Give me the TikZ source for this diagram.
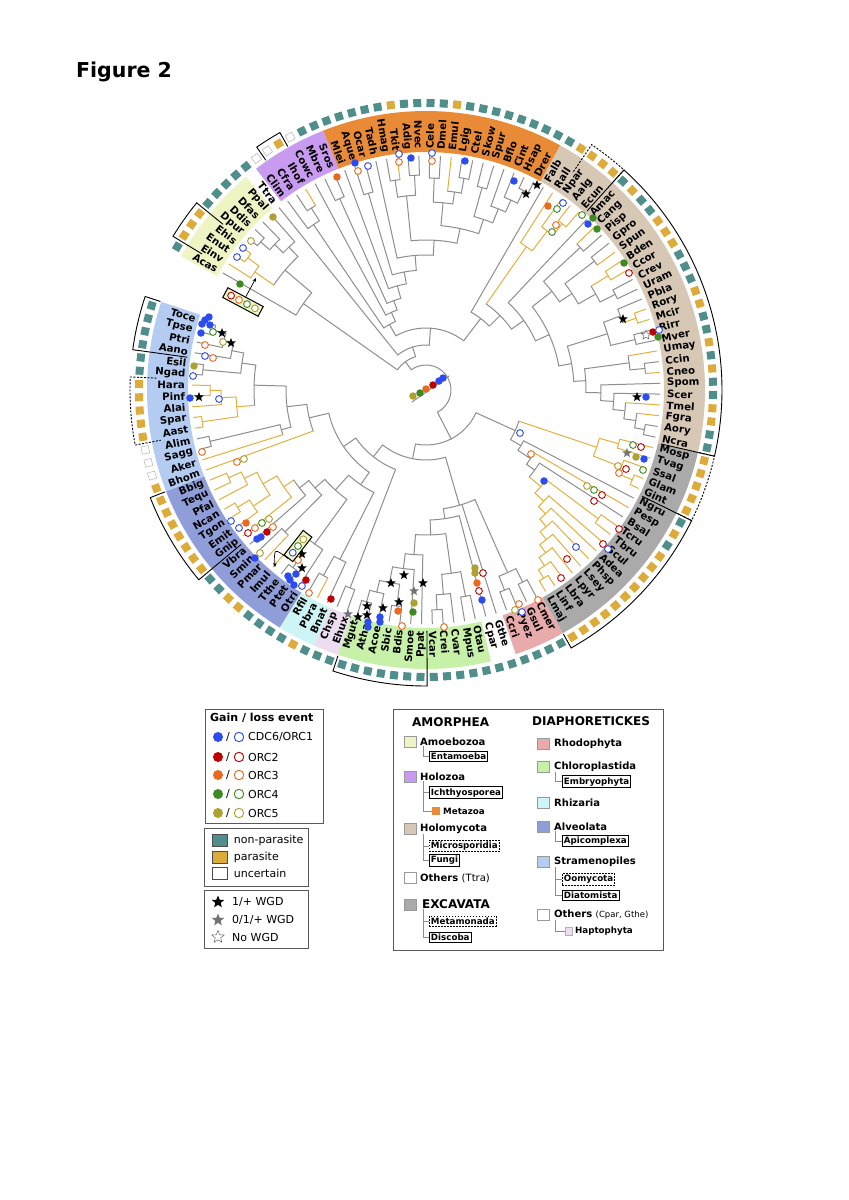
\documentclass[tikz,border=0pt]{standalone}
\usepackage{fontspec}
\setmainfont{DejaVu Sans}
\usetikzlibrary{arrows.meta,positioning,calc,shapes.geometric}

\definecolor{treegrey}{HTML}{8E8E8E}
\definecolor{treegold}{HTML}{E2B03F}
\definecolor{sqteal}{HTML}{4F8E8B}
\definecolor{sqgold}{HTML}{DCAB3A}
\definecolor{cstram}{HTML}{B5CCF2}
\definecolor{calv}{HTML}{8F9DD8}
\definecolor{crhiz}{HTML}{CEF5F6}
\definecolor{chapt}{HTML}{EDDDF0}
\definecolor{cchlo}{HTML}{C7F0A8}
\definecolor{crhod}{HTML}{E8AAAA}
\definecolor{cexc}{HTML}{AAAAAA}
\definecolor{cholo}{HTML}{D7C8B5}
\definecolor{cmeta}{HTML}{E98B36}
\definecolor{choloz}{HTML}{C89BF0}
\definecolor{camoe}{HTML}{EEF4C4}
\definecolor{cOne}{HTML}{2D4CF0}
\definecolor{cTwo}{HTML}{C00000}
\definecolor{cThree}{HTML}{E96A1E}
\definecolor{cFour}{HTML}{3E8A22}
\definecolor{cFive}{HTML}{ACA131}
\definecolor{boxfill}{HTML}{EEF3C8}

\begin{document}
\begin{tikzpicture}[x=1pt,y=1pt,
  tg/.style={draw=treegrey,line width=1pt,line cap=round},
  ty/.style={draw=treegold,line width=1pt,line cap=round},
  lab/.style={font=\bfseries\fontsize{10.2}{11}\selectfont,inner sep=0pt},
  sqbase/.style={rectangle,inner sep=0pt,minimum size=8pt},
  sqn/.style={sqbase,fill=sqteal},
  sqp/.style={sqbase,fill=sqgold},
  squ/.style={sqbase,draw=black!35,fill=white,line width=0.4pt,minimum size=7.4pt},
  bsolid/.style={draw=black,line width=0.9pt},
  bdash/.style={draw=black,line width=0.9pt,dash pattern=on 2pt off 1.5pt},
  fdot/.style={circle,fill=#1,inner sep=0pt,minimum size=7.5pt},
  odot/.style={circle,draw=#1,fill=white,line width=0.9pt,inner sep=0pt,minimum size=6.8pt},
  wgd/.style={star,star points=5,star point ratio=2.3,fill=#1,inner sep=0pt,minimum size=10pt},
  wgdo/.style={star,star points=5,star point ratio=2.3,draw=black!60,fill=white,line width=0.5pt,inner sep=0pt,minimum size=10pt},
  gbox/.style={draw=black,fill=boxfill,line width=1pt,inner sep=0pt},
  legbox/.style={draw=black!65,line width=0.8pt},
  legtxt/.style={font=\fontsize{11}{13}\selectfont,inner sep=0pt},
  legbold/.style={font=\bfseries\fontsize{10}{12}\selectfont,inner sep=0pt},
  leghead/.style={font=\bfseries\fontsize{12}{14}\selectfont,inner sep=0pt},
  swatch/.style={draw=black!70,line width=0.5pt,minimum width=15pt,minimum height=12pt,inner sep=0pt},
  keysw/.style={draw=black!40,line width=0.5pt,minimum width=12pt,minimum height=11pt,inner sep=0pt},
  subbox/.style={draw=black,line width=0.8pt,inner sep=1.6pt,font=\bfseries\fontsize{8.7}{10}\selectfont},
  subdash/.style={subbox,dash pattern=on 1.8pt off 1.2pt},
  conn/.style={draw=black!45,line width=0.6pt},
  arr/.style={-{Stealth[length=4pt,width=3.5pt]},line width=0.7pt}]

\fill[white] (-426,-810) rectangle (423,390);
\useasboundingbox (-426,-810) rectangle (423,390);

\node[anchor=west,font=\bfseries\fontsize{20.5}{24}\selectfont,inner sep=0pt] (title) at (-350,318) {Figure 2};

% clade bands
\foreach \na/\nb/\col in {0/14/cstram,15/28/calv,29/31/crhiz,32/33/chapt,34/45/cchlo,48/51/crhod,
  52/69/cexc,70/97/cholo,98/116/cmeta,117/122/choloz,124/131/camoe}{
  \pgfmathsetmacro\sa{162.9+2.65*(\na-0.5)}
  \pgfmathsetmacro\sb{162.9+2.65*(\nb+0.5)}
  \fill[\col] (\sa:238) arc[start angle=\sa,end angle=\sb,radius=238] -- (\sb:279)
    arc[start angle=\sb,end angle=\sa,radius=279] -- cycle;
}

% internal nodes: first child/last child/radius/parent radius/style
\foreach \na/\nb/\nr/\np/\ls in {
  0/1/220/208/tg, 0.5/2/208/198/tg, 1.25/3/198/186/tg, 4/5/224/186/tg, 2.125/4.5/186/172/tg,
  6/7/216/205/ty, 6.5/8/205/190/ty, 9/10/226/190/ty, 7.25/9.5/190/172/ty, 3.3125/8.375/172/140/tg,
  11/12/222/150/tg, 11.5/13/150/140/tg, 5.84375/12.25/140/120/tg, 9.046875/14/120/100/tg,
  15/16/216/202/ty, 15.5/17/202/188/ty, 18/19/222/208/ty, 18.5/20/208/188/ty, 16.25/19.25/188/172/ty,
  17.75/21/172/160/ty, 19.375/22/160/148/tg, 23/24/200/148/tg, 20.6875/23.5/148/135/tg,
  26/27/222/205/tg, 25/26.5/205/190/tg, 25.75/28/190/135/tg, 22.09375/26.875/135/115/tg,
  29/30/212/190/tg, 29.5/31/190/115/tg, 24.484375/30.25/115/100/tg,
  11.5234375/27.3671875/100/85/tg, 32/33/212/85/tg, 19.4453125/32.5/85/70/tg,
  34/35/220/208/tg, 34.5/36/208/196/tg, 37/38/218/196/tg, 35.25/37.5/196/180/tg, 36.375/39/180/165/tg,
  37.6875/40/165/145/tg, 41/42/220/205/tg, 41.5/43/205/185/tg, 44/45/210/185/tg, 42.25/44.5/185/145/tg,
  38.84375/43.375/145/130/tg, 41.109375/46/130/120/tg, 48/49/215/200/tg, 50/51/215/200/tg,
  48.5/50.5/200/120/tg, 43.5546875/49.5/120/70/tg, 25.97265625/46.52734375/70/55/tg,
  52/53/222/212/ty, 52.5/54/212/202/ty, 53.25/55/202/192/ty, 54.125/56/192/182/ty, 55.0625/57/182/172/ty,
  56.03125/58/172/162/ty, 57.015625/59/162/150/ty, 60/61/215/150/ty, 58.0078125/60.5/150/135/ty,
  59.25390625/62/135/125/tg, 60.626953/63/125/110/tg, 61.813477/64/110/98/tg,
  65/66/225/210/ty, 65.5/67/210/180/ty, 68/69/200/180/ty, 66.25/68.5/180/98/ty,
  62.906738/67.375/98/55/tg, 36.25/65.140869/55/25/tg,
  70/71/222/212/tg, 70.5/72/212/200/tg, 71.25/73/200/188/tg, 72.125/74/188/175/tg, 73.0625/75/175/160/tg,
  76/77/220/205/tg, 76.5/78/205/160/tg, 74.03125/77.25/160/148/tg, 81/82/222/208/ty, 81.5/83/208/190/tg,
  79/80/215/190/tg, 79.5/82.25/190/148/tg, 75.640625/80.875/148/135/tg, 84/85/212/195/tg,
  86/87/215/195/ty, 84.5/86.5/195/175/tg, 88/89/212/175/tg, 85.5/88.5/175/160/tg, 90/91/210/160/tg,
  87/90.5/160/135/tg, 78.2578125/88.75/135/120/tg, 83.50390625/92/120/105/tg,
  93/94/215/200/ty, 93.5/95/200/175/ty, 94.25/96/175/105/ty, 87.751953/95.125/105/90/tg,
  91.438477/97/90/62/tg,
  98/99/222/208/tg, 98.5/100/208/195/tg, 99.25/101/195/180/tg, 102/103/210/180/tg,
  100.125/102.5/180/165/tg, 104/105/215/200/tg, 104.5/106/200/188/tg, 107/108/212/188/tg,
  105.25/107.5/188/165/tg, 101.3125/106.375/165/150/tg, 109/110/215/195/tg, 111/112/212/195/tg,
  109.5/111.5/195/150/tg, 103.84375/110.5/150/135/tg, 107.171875/113/135/120/tg, 114/115/205/120/tg,
  110.0859375/114.5/120/108/tg, 112.29296875/116/108/95/tg, 117/118/210/95/tg,
  114.146484/117.5/95/85/tg, 115.823242/119/85/75/tg, 120/121/215/200/tg, 120.5/122/200/75/tg,
  117.411621/121.25/75/62/tg, 94.219238/119.330811/62/45/tg,
  126/127/222/210/tg, 125/126.5/210/198/tg, 124/125.75/198/185/tg, 128/129/222/208/ty,
  128.5/130/208/185/ty, 124.875/129.25/185/150/tg, 127.0625/131/150/35/tg,
  106.775024/123/45/35/tg, 114.887512/129.03125/35/25/tg, 50.695435/121.959381/25/25/tg}{
  \pgfmathsetmacro\sa{162.9+2.65*\na}
  \pgfmathsetmacro\sb{162.9+2.65*\nb}
  \pgfmathsetmacro\sm{(\sa+\sb)/2}
  \draw[\ls] (\sm:\np) -- (\sm:\nr);
  \draw[\ls] (\sa:\nr) arc[start angle=\sa,end angle=\sb,radius=\nr];
}
\coordinate (rootA) at (-14,-12);
\coordinate (rootB) at (23,14);
\draw[tg] (rootA) -- (rootB);

% tips: name/status/parent radius/style
\foreach \nm/\st/\np/\ls [count=\k from 0] in {
  Toce/n/220/tg, Tpse/n/220/tg, Ptri/n/208/tg, Aano/n/198/tg, Esil/n/224/tg, Ngad/n/224/tg,
  Hara/p/216/ty, Pinf/p/216/ty, Alai/p/205/ty, Spar/p/226/ty, Aast/p/226/ty, Alim/u/222/tg,
  Sagg/u/222/tg, Aker/u/150/ty, Bhom/p/120/ty,
  Bbig/p/216/ty, Tequ/p/216/ty, Pfal/p/202/ty, Ncan/p/222/ty, Tgon/p/222/ty, Emit/p/208/ty,
  Gnip/p/172/ty, Vbra/n/160/tg, Smin/n/200/tg, Pmar/p/200/ty, Imul/p/205/ty, Tthe/n/222/tg,
  Ptet/n/222/tg, Otri/n/190/tg,
  Rfil/n/212/tg, Pbra/p/212/ty, Bnat/n/190/tg, Chsp/n/212/tg, Ehux/n/212/tg,
  Mgut/n/220/tg, Atha/n/220/tg, Acoe/n/208/tg, Sbic/n/218/tg, Bdis/n/218/tg, Smoe/n/180/tg,
  Ppat/n/165/tg, Vcar/n/220/tg, Crei/n/220/tg, Cvar/n/205/tg, Mpus/n/210/tg, Otau/n/210/tg,
  Cpar/n/130/tg, Gthe/n/120/tg, Ccri/n/215/tg, Pyez/n/215/tg, Gsul/n/215/tg, Cmer/n/215/tg,
  Lmaj/p/222/ty, Linf/p/222/ty, Lbra/p/212/ty, Lpyr/p/202/ty, Lsey/p/192/ty, Phsp/p/182/ty,
  Adea/p/172/ty, Scul/p/162/ty, Tbru/p/215/ty, Tcru/p/215/ty, Bsal/n/135/tg, Pesp/p/125/ty,
  Ngru/n/110/tg, Gint/p/225/ty, Glam/p/225/ty, Ssal/p/210/ty, Tvag/p/200/ty, Mosp/p/200/ty,
  Ncra/n/222/tg, Aory/n/222/tg, Fgra/p/212/ty, Tmel/p/200/ty, Scer/n/188/tg, Spom/n/175/tg,
  Cneo/p/220/ty, Ccin/n/220/tg, Umay/p/205/ty, Mver/n/215/tg, Rirr/n/215/tg, Mcir/p/222/ty,
  Rory/p/222/ty, Pbla/n/208/tg, Uram/n/212/tg, Crev/n/212/tg, Ccor/p/215/ty, Bden/p/215/ty,
  Spun/p/212/ty, Gpro/n/212/tg, Pisp/n/210/tg, Cang/p/210/ty, Amac/n/120/tg, Ecun/p/215/ty,
  Aalg/p/215/ty, Npar/p/200/ty, Rall/p/175/ty, Falb/n/90/tg,
  Drer/n/222/tg, Hsap/n/222/tg, Cint/n/208/tg, Bflo/n/195/tg, Spur/n/210/tg, Skow/n/210/tg,
  Ctel/n/215/tg, Lgig/n/215/tg, Emul/p/200/ty, Dmel/n/212/tg, Cele/n/212/tg, Nvec/n/215/tg,
  Adig/n/215/tg, Tkit/p/212/ty, Hmag/n/212/tg, Tadh/n/135/tg, Ocar/n/205/tg, Aque/n/205/tg,
  Mlei/n/108/tg, Sros/n/210/tg, Mbre/n/210/tg, Cowc/u/85/tg, Ihof/p/215/ty, Cfra/u/215/tg,
  Clim/u/200/tg, Ttra/n/45/tg,
  Ppal/n/198/tg, Dfas/n/210/tg, Ddis/n/222/tg, Dpur/n/222/tg, Ehis/p/222/ty, Enut/p/222/ty,
  Einv/p/208/ty, Acas/n/150/tg}{
  \pgfmathsetmacro\tang{162.9+2.65*\k}
  \draw[\ls] (\tang:\np) -- (\tang:234);
  \pgfmathsetmacro\cosv{cos(\tang)}
  \ifdim\cosv pt<0pt \def\labanc{east}\pgfmathsetmacro\labrot{\tang+180}\else\def\labanc{west}\let\labrot\tang\fi
  \node[lab,rotate=\labrot,anchor=\labanc] (\nm) at (\tang:241) {\nm};
  \node[sq\st,rotate=\tang] (sq\k) at (\tang:287) {};
}

% group brackets
\foreach \na/\nb/\il/\ih/\bs in {0/3/280/241/bsolid, 6/10/270/270/bdash, 15/21/280/241/bsolid,
  34/40/280/241/bsolid, 52/64/280/241/bsolid, 65/69/280/280/bdash, 70/92/241/241/bsolid,
  93/95/280/262/bdash, 120/121/280/280/bsolid, 128/130/262/262/bsolid}{
  \pgfmathsetmacro\sa{162.9+2.65*(\na-0.5)}
  \pgfmathsetmacro\sb{162.9+2.65*(\nb+0.5)}
  \draw[\bs] (\sa:\il) -- (\sa:296) arc[start angle=\sa,end angle=\sb,radius=296] -- (\sb:\ih);
}

% gain / loss events
\foreach \x/\y/\mc [count=\k] in {-153/173/cFive, -186/106/cFour, -89/213/cThree, -71/227/cOne,
  -15/232/cOne, 39/229/cOne, 88/209/cOne, 122/184/cThree, 167/172/cFour, 162/166/cOne, 171/161/cFour,
  198/127/cFour, 227/58/cTwo, 232/53/cFour, 220/-7/cOne, 210/-67/cFive, 218/-69/cOne, 118/-91/cOne,
  56/-210/cOne, -130/-184/cOne, -136/-190/cOne, -132/-195/cOne, -138/-186/cOne, -120/-190/cTwo,
  -95/-209/cTwo, -58/-232/cOne, -58/-237/cOne, -46/-227/cOne, -46/-232/cOne, -28/-221/cThree,
  -12/-213/cFive, -13/-222/cFour, 49/-178/cFive, 49/-183/cFive, 51/-193/cThree, -180/-133/cThree,
  -159/-142/cTwo, -169/-149/cOne, -165/-147/cOne, -171/-168/cOne, -221/70/cOne, -217/73/cOne,
  -224/66/cOne, -216/65/cOne, -225/57/cOne, -232/24/cFive, -236/-8/cOne,
  -13/-6/cFive, -6/-3/cFour, 0/1/cThree, 7/5/cTwo, 13/9/cOne, 17/12/cOne}{
  \node[fdot=\mc] (gain\k) at (\x,\y) {};
}
\foreach \x/\y/\mc [count=\k] in {-175/149/cFive, -183/142/cOne, -189/133/cOne, -68/219/cThree,
  -58/224/cOne, -27/236/cOne, -27/228/cThree, 6/237/cOne, 6/229/cThree, 137/187/cOne, 131/181/cFour,
  130/165/cThree, 126/158/cFour, 156/175/cFour, 203/117/cTwo, 233/60/cOne, 207/-55/cFour, 215/-57/cTwo,
  192/-76/cFive, 193/-83/cThree, 200/-79/cTwo, 217/-80/cFour, 161/-96/cFive, 168/-100/cFour,
  176/-105/cTwo, 168/-111/cTwo, 105/-64/cThree, 193/-139/cTwo, 150/-157/cOne, 177/-154/cTwo,
  182/-159/cOne, 141/-169/cTwo, 135/-188/cTwo, 112/-210/cThree, 93/-214/cThree, 89/-220/cFive,
  96/-222/cOne, 57/-183/cTwo, 53/-201/cTwo, 94/-43/cOne, -128/-170/cThree, -124/-196/cOne,
  -117/-203/cThree, -24/-236/cThree, 18/-237/cThree, -224/-62/cThree, -189/-72/cThree, -182/-69/cFive,
  -195/-131/cOne, -187/-138/cOne, -178/-143/cTwo, -171/-138/cThree, -164/-133/cFour, -157/-129/cFive,
  -153/-137/cThree, -166/-163/cFive, -213/58/cFour, -203/48/cFive, -221/45/cThree, -221/34/cOne,
  -213/32/cThree, -233/14/cOne, -207/-9/cOne}{
  \node[odot=\mc] (loss\k) at (\x,\y) {};
}

% WGD stars
\foreach \x/\y/\sc [count=\k] in {111/205/black, 100/196/black, 197/71/black, 211/-7/black,
  -204/57/black, -195/47/black, -227/-7/black, -124/-164/black, -124/-178/black, -68/-227/black,
  -59/-225/black, -59/-216/black, -43/-218/black, -35/-193/black, -27/-212/black, -22/-185/black,
  -3/-193/black, 201/-63/black!55, -78/-224/black!55, -12/-201/black!55}{
  \node[wgd=\sc] (wgd\k) at (\x,\y) {};
}
\node[wgdo] (nowgd) at (220,55) {};

% boxed losses with arrows
\node[gbox,rotate=-28,minimum width=40pt,minimum height=11pt] (boxA) at (-183,88) {};
\node[odot=cTwo] (boxA1) at ($(boxA.center)+(152:13.5)$) {};
\node[odot=cThree] (boxA2) at ($(boxA.center)+(152:4.5)$) {};
\node[odot=cFour] (boxA3) at ($(boxA.center)+(-28:4.5)$) {};
\node[odot=cFive] (boxA4) at ($(boxA.center)+(-28:13.5)$) {};
\coordinate (tipA) at (-170,112);
\draw[arr] (boxA.north) -- (tipA);

\node[gbox,rotate=52,minimum width=31pt,minimum height=11pt] (boxB) at (-128,-156) {};
\node[odot=cOne] (boxB1) at ($(boxB.center)+(232:8.5)$) {};
\node[odot=cFour] (boxB2) at (boxB.center) {};
\node[odot=cFive] (boxB3) at ($(boxB.center)+(52:8.5)$) {};
\coordinate (tipB) at (-151,-177);
\draw[arr] (boxB.west) .. controls (-152,-158) .. (tipB);

% legend: events
\draw[legbox] (-221,-319) rectangle (-103,-433);
\node[anchor=west,font=\bfseries\fontsize{11}{13}\selectfont,inner sep=0pt] (evtitle) at (-216,-328) {Gain / loss event};
\foreach \y/\mc/\tx [count=\k] in {-347/cOne/CDC6\slash ORC1, -367/cTwo/ORC2, -385/cThree/ORC3,
  -404/cFour/ORC4, -423/cFive/ORC5}{
  \node[fdot=\mc,minimum size=10pt] (evf\k) at (-208,\y) {};
  \node[legtxt] (evs\k) at (-198,\y) {/};
  \node[odot=\mc,minimum size=9.5pt] (evo\k) at (-187,\y) {};
  \node[legtxt,anchor=west] (evt\k) at (-178,\y) {\tx};
}

% legend: lifestyle
\draw[legbox] (-222,-438) rectangle (-118,-496);
\node[swatch,fill=sqteal] (swn) at (-206,-450) {};
\node[swatch,fill=sqgold] (swp) at (-206,-467) {};
\node[swatch,fill=white] (swu) at (-206,-483) {};
\node[legtxt,anchor=west,right=6pt of swn] (txn) {non-parasite};
\node[legtxt,anchor=west,right=6pt of swp] (txp) {parasite};
\node[legtxt,anchor=west,right=6pt of swu] (txu) {uncertain};

% legend: WGD
\draw[legbox] (-222,-500) rectangle (-118,-558);
\node[wgd=black,minimum size=13pt] (lw1) at (-208,-512) {};
\node[wgd=black!55,minimum size=13pt] (lw2) at (-208,-530) {};
\node[wgdo,minimum size=13pt] (lw3) at (-208,-547) {};
\node[legtxt,anchor=west] (lwt1) at (-194,-512) {1/+ WGD};
\node[legtxt,anchor=west] (lwt2) at (-194,-530) {0/1/+ WGD};
\node[legtxt,anchor=west] (lwt3) at (-194,-547) {No WGD};

% legend: groups
\draw[legbox] (-33,-319) rectangle (237,-560);
\node[leghead,anchor=west] (amorph) at (-14,-332) {AMORPHEA};
\node[leghead,anchor=west] (diaph) at (106,-331) {DIAPHORETICKES};

\node[keysw,fill=camoe] (swamoe) at (-16,-351.5) {};
\node[legbold,anchor=west] (txamoe) at (-6,-351.5) {Amoebozoa};
\node[subbox,anchor=west] (bxent) at (3,-366) {Entamoeba};
\draw[conn] ([xshift=3pt]txamoe.south west) |- (bxent.west);

\node[keysw,fill=choloz] (swholoz) at (-16,-387) {};
\node[legbold,anchor=west] (txholoz) at (-6,-387) {Holozoa};
\node[subbox,anchor=west] (bxich) at (3,-402.7) {Ichthyosporea};
\node[rectangle,fill=cmeta,minimum size=8pt,inner sep=0pt] (swmeta) at (10,-421) {};
\node[font=\bfseries\fontsize{8.7}{10}\selectfont,inner sep=0pt,anchor=west] (txmeta) at (17,-421) {Metazoa};
\draw[conn] ([xshift=3pt]txholoz.south west) |- (bxich.west);
\draw[conn] ([xshift=3pt]txholoz.south west) |- (swmeta.west);

\node[keysw,fill=cholo] (swholo) at (-16,-439) {};
\node[legbold,anchor=west] (txholo) at (-6,-439) {Holomycota};
\node[subdash,anchor=west] (bxmic) at (3,-456) {Microsporidia};
\node[subbox,anchor=west] (bxfun) at (3,-470.5) {Fungi};
\draw[conn] ([xshift=3pt]txholo.south west) |- (bxmic.west);
\draw[conn] ([xshift=3pt]txholo.south west) |- (bxfun.west);

\node[keysw,fill=white] (swoth) at (-16,-488) {};
\node[legbold,anchor=west] (txoth) at (-6,-488) {Others \mdseries(Ttra)};

\node[keysw,fill=cexc] (swexc) at (-16,-514.5) {};
\node[leghead,anchor=west] (txexc) at (-4,-514.5) {EXCAVATA};
\node[subdash,anchor=west] (bxmeta) at (3,-531) {Metamonada};
\node[subbox,anchor=west] (bxdisc) at (3,-547.5) {Discoba};
\draw[conn] ([xshift=1pt]txexc.south west) |- (bxmeta.west);
\draw[conn] ([xshift=1pt]txexc.south west) |- (bxdisc.west);

\node[keysw,fill=crhod] (swrhod) at (117.5,-354) {};
\node[legbold,anchor=west] (txrhod) at (128,-354) {Rhodophyta};

\node[keysw,fill=cchlo] (swchlo) at (117.5,-377) {};
\node[legbold,anchor=west] (txchlo) at (128,-377) {Chloroplastida};
\node[subbox,anchor=west] (bxemb) at (136,-391.7) {Embryophyta};
\draw[conn] ([xshift=1pt]txchlo.south west) |- (bxemb.west);

\node[keysw,fill=crhiz] (swrhiz) at (117.5,-413) {};
\node[legbold,anchor=west] (txrhiz) at (128,-413) {Rhizaria};

\node[keysw,fill=calv] (swalv) at (117.5,-437) {};
\node[legbold,anchor=west] (txalv) at (128,-437) {Alveolata};
\node[subbox,anchor=west] (bxapi) at (136,-451) {Apicomplexa};
\draw[conn] ([xshift=1pt]txalv.south west) |- (bxapi.west);

\node[keysw,fill=cstram] (swstr) at (117.5,-472) {};
\node[legbold,anchor=west] (txstr) at (128,-472) {Stramenopiles};
\node[subdash,anchor=west] (bxoom) at (136,-489.5) {Oomycota};
\node[subbox,anchor=west] (bxdia) at (136,-505) {Diatomista};
\draw[conn] ([xshift=1pt]txstr.south west) |- (bxoom.west);
\draw[conn] ([xshift=1pt]txstr.south west) |- (bxdia.west);

\node[keysw,fill=white] (swoth2) at (117.5,-525) {};
\node[legbold,anchor=west] (txoth2) at (128,-525) {Others {\mdseries\fontsize{8.5}{10}\selectfont(Cpar, Gthe)}};
\node[rectangle,draw=black!30,fill=chapt,minimum width=7pt,minimum height=8pt,inner sep=0pt] (swhap) at (142.5,-541) {};
\node[font=\bfseries\fontsize{8.7}{10}\selectfont,inner sep=0pt,anchor=west] (txhap) at (149,-541) {Haptophyta};
\draw[conn] ([xshift=1pt]txoth2.south west) |- (swhap.west);
\end{tikzpicture}
\end{document}
